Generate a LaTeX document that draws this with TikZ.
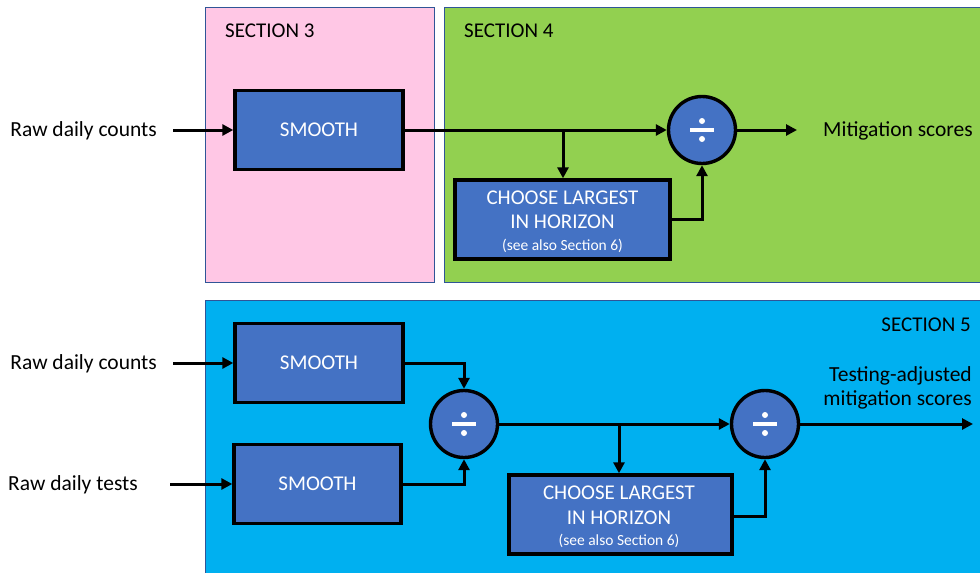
\documentclass[tikz,border=0pt]{standalone}
\usepackage{fontspec}
\setmainfont{Carlito}
\usetikzlibrary{arrows.meta}
\definecolor{pinkbg}{HTML}{FFC7E5}
\definecolor{greenbg}{HTML}{92D050}
\definecolor{bluebg}{HTML}{00B0F0}
\definecolor{boxblue}{HTML}{4472C4}
\definecolor{edgeblue}{HTML}{2F5597}
\tikzset{
  section/.style={draw=edgeblue, line width=0.8pt},
  procbox/.style={draw=black, line width=3.4pt, fill=boxblue, text=white, font=\fontsize{21}{24}\selectfont, align=center, inner sep=0pt},
  boxtext/.style={text=white, font=\fontsize{21}{24}\selectfont, inner sep=0pt},
  smalltext/.style={text=white, font=\fontsize{15.5}{18}\selectfont, inner sep=0pt},
  divnode/.style={circle, draw=black, line width=3.4pt, fill=boxblue, minimum size=67pt, inner sep=0pt},
  lbl/.style={font=\fontsize{21.5}{25}\selectfont, inner sep=0pt},
  seclbl/.style={font=\fontsize{21}{24}\selectfont, inner sep=0pt},
  conn/.style={line width=3pt, -{Triangle[length=11pt,width=11pt]}},
}
\newcommand{\divsign}{\tikz[x=1pt,y=1pt]{\fill[white] (-12,-1.6) rectangle (12,1.6); \fill[white] (0,9) circle (3); \fill[white] (0,-9) circle (3);}}
\begin{document}
\begin{tikzpicture}[x=1pt,y=-1pt]
\useasboundingbox (0,0) rectangle (980,573);
% section backgrounds
\fill[pinkbg] (205,7) rectangle (434,282);
\draw[section] (205,7) rectangle (434,282);
\fill[greenbg] (444,7) rectangle (985,282);
\draw[section] (444,7) rectangle (985,282);
\fill[bluebg] (205,300) rectangle (985,580);
\draw[section] (205,300) rectangle (985,580);
\node[seclbl, anchor=west] (s3) at (225,31) {SECTION 3};
\node[seclbl, anchor=west] (s4) at (464,31) {SECTION 4};
\node[seclbl, anchor=east] (s5) at (971,325) {SECTION 5};

% top diagram
\node[lbl, anchor=east] (in1) at (157,131) {Raw daily counts};
\coordinate (in1s) at (173,130);
\node[procbox, minimum width=168pt, minimum height=79pt] (sm1) at (319,130) {SMOOTH};
\node[divnode] (d1) at (702,130) {\divsign};
\node[procbox, minimum width=215pt, minimum height=79pt] (ch1) at (562.5,219.5) {};
\node[boxtext] (ch1a) at (562.5,198) {CHOOSE LARGEST};
\node[boxtext] (ch1b) at (562.5,222) {IN HORIZON};
\node[smalltext] (ch1c) at (562.5,246) {(see also Section 6)};
\coordinate (out1) at (797,130);
\node[lbl, anchor=west] (mit) at (823,131) {Mitigation scores};
\draw[conn] (in1s) -- (sm1.west);
\draw[conn] (sm1.east) -- (d1.west);
\draw[conn] (563,130) -- (ch1.north -| 563,0);
\draw[conn] (ch1.east |- 0,219) -| (d1.south);
\draw[conn] (d1.east) -- (out1);

% bottom diagram
\node[lbl, anchor=east] (in2) at (157,364) {Raw daily counts};
\node[lbl, anchor=east] (in3) at (138,485) {Raw daily tests};
\coordinate (in2s) at (173,363);
\coordinate (in3s) at (170,484);
\node[procbox, minimum width=168pt, minimum height=79pt] (sm2) at (319,363) {SMOOTH};
\node[procbox, minimum width=167pt, minimum height=79pt] (sm3) at (317.5,484) {SMOOTH};
\node[divnode] (d2) at (464,424) {\divsign};
\node[divnode] (d3) at (765,424) {\divsign};
\node[procbox, minimum width=223pt, minimum height=79pt] (ch2) at (620.5,514.5) {};
\node[boxtext] (ch2a) at (619,493) {CHOOSE LARGEST};
\node[boxtext] (ch2b) at (619,518) {IN HORIZON};
\node[smalltext] (ch2c) at (619,541) {(see also Section 6)};
\coordinate (out2) at (973,424);
\node[lbl, anchor=east, align=right] (tam) at (972,388) {Testing-adjusted\\[-1pt]mitigation scores};
\draw[conn] (in2s) -- (sm2.west);
\draw[conn] (in3s) -- (sm3.west);
\draw[conn] (sm2.east) -| (d2.north);
\draw[conn] (sm3.east) -| (d2.south);
\draw[conn] (d2.east) -- (d3.west);
\draw[conn] (619,424) -- (ch2.north -| 619,0);
\draw[conn] (ch2.east |- 0,516) -| (d3.south);
\draw[conn] (d3.east) -- (out2);
\end{tikzpicture}
\end{document}
